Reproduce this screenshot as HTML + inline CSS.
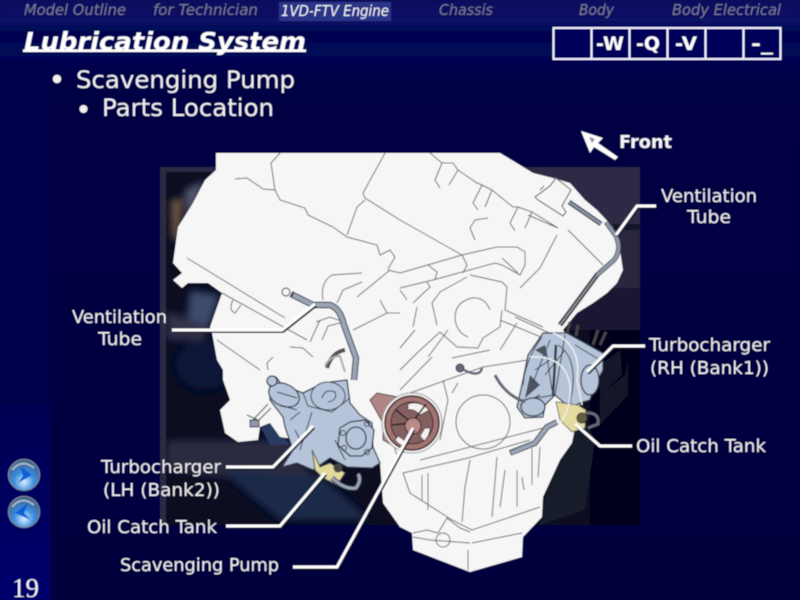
<!DOCTYPE html>
<html><head><meta charset="utf-8"><style>
html,body{margin:0;padding:0;background:#00003f;width:800px;height:600px;overflow:hidden}
svg{display:block}
.n{font:italic 15px "DejaVu Sans",sans-serif;fill:#77778f}
.l{font:18px "DejaVu Sans",sans-serif;fill:#eeeeee}
.b{font:24px "DejaVu Sans",sans-serif;fill:#f0f0f0}
.e{fill:none;stroke:#6a6a6a;stroke-width:1}
.t{fill:#b6c4da;stroke:#343a48;stroke-width:1.3}
.d{fill:none;stroke:#343a48;stroke-width:1}
.c{fill:none;stroke:#fff;stroke-width:3}
.s{fill:none;stroke:#15152a;stroke-width:3;transform:translate(1px,1.5px)}
</style></head><body>
<svg width="800" height="600" viewBox="0 0 800 600" xmlns="http://www.w3.org/2000/svg">
<defs>
<linearGradient id="bg" x1="0" y1="0" x2="0" y2="1"><stop offset="0" stop-color="#0a1060"/><stop offset=".035" stop-color="#0a1266"/><stop offset=".055" stop-color="#00054f"/><stop offset=".085" stop-color="#000858"/><stop offset=".14" stop-color="#000044"/><stop offset="1" stop-color="#00003e"/></linearGradient>
<linearGradient id="side" x1="0" y1="0" x2="0" y2="1"><stop offset="0" stop-color="#000052"/><stop offset="1" stop-color="#00006e"/></linearGradient>
<radialGradient id="ball" cx=".5" cy=".72" r=".7"><stop offset="0" stop-color="#dff1ff"/><stop offset=".45" stop-color="#3d8fe0"/><stop offset="1" stop-color="#3a5a80"/></radialGradient>
<filter id="soft" x="-5%" y="-5%" width="110%" height="110%"><feGaussianBlur stdDeviation="0.45"/></filter>
<filter id="bl" x="-20%" y="-20%" width="140%" height="140%"><feGaussianBlur stdDeviation="4"/></filter>
</defs>
<g filter="url(#soft)">
<rect width="800" height="600" fill="url(#bg)"/>
<rect x="0" y="405" width="50" height="195" fill="url(#side)"/>
<rect x="0" y="60" width="50" height="345" fill="#00004e"/>

<!-- nav -->
<rect x="279" y="2" width="112" height="19" fill="#2c3688"/>
<text class="n" x="24" y="15" textLength="102" lengthAdjust="spacingAndGlyphs">Model Outline</text>
<text class="n" x="153" y="15" textLength="105" lengthAdjust="spacingAndGlyphs">for Technician</text>
<text class="n" x="281" y="16" textLength="108" lengthAdjust="spacingAndGlyphs" style="fill:#f4f4f4">1VD-FTV Engine</text>
<text class="n" x="439" y="15" textLength="54" lengthAdjust="spacingAndGlyphs">Chassis</text>
<text class="n" x="579" y="15" textLength="35" lengthAdjust="spacingAndGlyphs">Body</text>
<text class="n" x="672" y="15" textLength="109" lengthAdjust="spacingAndGlyphs">Body Electrical</text>

<!-- title -->
<text x="24" y="50" textLength="282" lengthAdjust="spacingAndGlyphs" style="font:italic bold 25px 'DejaVu Sans',sans-serif;fill:#fff">Lubrication System</text>
<rect x="23" y="49.5" width="283" height="2.5" fill="#fff"/>

<!-- code box -->
<g fill="#00005a" stroke="#eef" stroke-width="2">
<rect x="553.5" y="28" width="38" height="31"/><rect x="591.5" y="28" width="38" height="31"/><rect x="629.5" y="28" width="38" height="31"/><rect x="667.5" y="28" width="38" height="31"/><rect x="705.5" y="28" width="38" height="31"/><rect x="743.5" y="28" width="37" height="31"/>
</g>
<g style="font:bold 19px 'DejaVu Sans',sans-serif;fill:#fff">
<text x="596" y="50" textLength="28" lengthAdjust="spacingAndGlyphs">-W</text>
<text x="636" y="50" textLength="24" lengthAdjust="spacingAndGlyphs">-Q</text>
<text x="675" y="50" textLength="22" lengthAdjust="spacingAndGlyphs">-V</text>
<text x="751" y="50" textLength="22" lengthAdjust="spacingAndGlyphs">-_</text>
</g>

<!-- bullets -->
<circle cx="57" cy="79" r="4.2" fill="#f0f0f0"/>
<text class="b" x="76" y="88" textLength="219" lengthAdjust="spacingAndGlyphs">Scavenging Pump</text>
<circle cx="83.5" cy="109" r="4" fill="#f0f0f0"/>
<text class="b" x="102" y="116" textLength="172" lengthAdjust="spacingAndGlyphs">Parts Location</text>

<!-- front arrow -->
<path d="M581 131 L603 138 L598 143 L618 157 L615 160 L594 147 L590 153 Z" fill="#fff"/>
<path d="M589 137 L595 139 L592 143 Z" fill="#8c8ca8"/>
<text x="619" y="148" textLength="53" lengthAdjust="spacingAndGlyphs" style="font:bold 18px 'DejaVu Sans',sans-serif;fill:#f4f4f4">Front</text>

<!-- photo backdrop -->
<rect x="160" y="167" width="480" height="358" fill="#2c2a44"/>
<rect x="166" y="172" width="474" height="353" fill="#070a22"/>
<rect x="525" y="172" width="115" height="52" fill="#2d2a44"/>
<rect x="560" y="224" width="80" height="6" fill="#17152c"/>
<rect x="590" y="230" width="50" height="58" fill="#2a2740"/>
<rect x="570" y="288" width="70" height="42" fill="#1a1832"/>
<rect x="590" y="330" width="50" height="195" fill="#06051a"/>
<path d="M600 395 L625 375 L628 360 L628 395 L600 425 Z" fill="#14142a"/>
<path d="M600 365 L620 350 L622 375 L600 395 Z" fill="#15142c"/>
<path d="M555 445 L585 420 L595 440 L585 510 L540 525 Z" fill="#191a2c"/>
<g filter="url(#bl)">
<path d="M170 200 L183 198 L180 240 L172 240Z" fill="#6a5540"/>
<path d="M184 190 L205 180 L190 230Z" fill="#55566e"/>
<path d="M190 290 L220 295 L208 330 L186 325 Z" fill="#3d4c6c"/>
<path d="M166 310 L205 325 L205 340 L166 340Z" fill="#33334a"/>
<path d="M166 440 L290 440 L320 490 L166 470Z" fill="#2c2c40"/>
<path d="M220 470 L320 475 L370 520 L280 520Z" fill="#1c2a4a"/>
<ellipse cx="205" cy="365" rx="30" ry="25" fill="#0e1838"/>
</g>
<path d="M261 428 L272 423 L290 445 L270 445Z" fill="#2a3a64"/>

<!-- engine silhouette -->
<path fill="#f6f6f6" d="M216 153 L500 153 L520 165 L533 173 L553 178 L570 183 L585 200 L597 210 L613 227 L620 250 L623 270 L617 283 L607 293 L593 303 L577 313 L563 330 L570 340 L585 380 L580 403 L572 443 L560 460 L543 497 L542 517 L523 537 L522 557 L470 572 L413 550 L412 533 L400 527 L383 503 L380 463 L350 462 L300 440 L280 437 L270 423 L260 427 L258 440 L238 442 L225 433 L220 410 L230 400 L223 380 L223 370 L217 360 L212 333 L210 327 L222 293 L208 283 L188 283 L182 288 L173 280 L182 273 L173 263 L178 227 L193 203 L205 180 L216 170 Z"/>

<!-- engine lines -->
<g class="e">
<path d="M235 179 L247 178 L263 189 L275 190 L280 200 L305 208 L308 215 L333 227 L347 237 L377 245 L380 255 L390 250 L395 257 L388 269"/>
<path d="M280 153 L271 163 L275 190"/>
<path d="M385 153 L363 193 L365 198 L400 220 L462 255 M528 215 L558 228"/>
<path d="M365 200 L357 207 L347 235"/>
<path d="M187 258 L285 318"/>
<path d="M222 293 L307 340"/>
<path d="M233 300 Q228 310 235 313 L241 305"/>
<path d="M362 273 L332 275 Q320 282 323 300"/>
<path d="M362 282 L343 290 L337 303"/>
<path d="M390 270 L357 297 M388 270 L400 273"/>
<path d="M380 300 L387 313 L353 330 M387 313 L400 313"/>
<path d="M290 347 L303 348 L313 357"/>
<path d="M217 340 L260 370"/>
<path d="M273 357 L267 363 L268 370"/>
<path d="M316 322 L330 317 L344 322 L328 326 L322 340 M310 342 L320 320"/>
<path d="M430 153 L442 163 L435 180 L440 188 M442 163 L453 163 L458 170 L449 185 M458 170 L477 183 L482 185 L473 203 L478 210 M482 185 L492 190 L485 207 M492 190 L513 207 L518 207 L510 223 L515 231 M532 212 L525 228 M518 207 L532 212 L558 228"/>
<path d="M488 218 L475 220 L470 228 L475 240"/>
<path d="M400 273 L462 255 L497 247 L517 247 L525 252 L525 265 L520 275 L502 265 L495 263 L433 280 L400 288"/>
<path d="M428 265 L437 272 L435 280 M462 255 L467 265 L463 273 M502 258 L518 273 M427 282 L430 287 L413 303"/>
<path d="M557 235 L540 268 L520 288"/>
<path d="M568 230 L603 265"/>
<path d="M470 275 L502 282 L507 287 L505 310 L543 327 M467 277 L440 292 L432 303 L437 325"/>
<path d="M490 310 Q485 297 472 298 Q455 302 455 318 Q456 332 468 337"/>
<path d="M440 332 L457 347 L478 348 L483 338 L500 327 L502 310 M500 350 L517 323"/>
<path d="M440 332 L417 353 L400 370 M417 307 L413 327 M400 290 L407 300 M415 330 L400 348 M428 357 L448 330 M452 358 L490 350 M432 357 L400 390"/>
<path d="M410 393 L483 367 L547 357"/>
<circle cx="483" cy="422" r="27"/>
<path d="M420 460 L547 427 M403 473 L468 458 L530 440"/>
<path d="M403 473 L410 493 L452 520 L472 530 L540 507 M428 473 L428 510 M422 475 L422 500"/>
<path d="M470 460 L465 487 L462 522 M497 457 L492 517 M505 470 L500 507 M517 470 L517 507 M522 477 L524 490 M532 448 L532 485 M540 447 L538 477"/>
<path d="M413 533 L427 530 L438 533 L447 518 L460 528 L470 532 M472 543 L522 533 M468 550 L468 570 M413 537 L430 540 L470 543"/>
<circle cx="443" cy="540" r="7" fill="none"/>
<path d="M452 393 L458 383 M500 320 L560 345 M515 317 L560 338"/>
<path d="M398 400 Q385 425 398 458 M443 380 L448 400 L440 440"/>
</g>

<!-- ventilation tube left -->
<path d="M291 294 L313 305 L330 305 Q340 308 344 325 L356 358 L354 380" fill="none" stroke="#343a48" stroke-width="6.5"/>
<path d="M293 295 L313 305 L330 305 Q340 308 344 325 L356 358 L354 380" fill="none" stroke="#9aa4b4" stroke-width="4.5"/>
<circle cx="286" cy="292" r="4" fill="none" stroke="#666" stroke-width="1.2"/>
<path d="M327 368 Q332 352 345 350" fill="none" stroke="#555" stroke-width="4"/>
<path d="M325 366 Q330 356 340 356 L345 372" fill="none" stroke="#aaa" stroke-width="2"/>
<!-- ventilation tube right -->
<path d="M569 202 L601 224" stroke="#343a48" stroke-width="5" fill="none"/>
<path d="M569 202 L601 224" stroke="#8d97a8" stroke-width="2.5" fill="none"/>
<path d="M606 222 L616 236 Q622 250 614 260 L597 275 L560 325" fill="none" stroke="#343a48" stroke-width="5"/>
<path d="M606 222 L616 236 Q622 250 614 260 L597 275" fill="none" stroke="#8d97a8" stroke-width="3.5"/>
<path d="M597 275 L560 325" fill="none" stroke="#999" stroke-width="1.5"/>
<!-- bracket on cam cover -->
<path d="M535 197 L550 186 L556 178 L571 190 L562 206 L566 212 L563 216 L538 200 Z M544 186 L540 190" fill="#f6f6f6" stroke="#666" stroke-width="1.1"/>

<!-- LH turbo -->
<g>
<path class="t" d="M270 378 L276 377 L282 385 L303 393 L323 383 L347 380 L350 403 L360 415 L372 423 L373 447 L380 463 L372 468 L347 467 L330 458 L313 470 L297 463 L282 467 L293 450 L285 427 L283 417 L270 400 Z"/>
<ellipse class="t" cx="284" cy="395" rx="16" ry="11" transform="rotate(25 284 395)"/>
<circle class="t" cx="272" cy="381" r="5"/>
<path class="d" d="M277 392 L297 398 M280 405 L297 410 M290 420 L300 412 M295 430 L300 440 M303 393 L308 406 L332 412 L350 398 M312 412 L300 450 M345 460 L335 440"/>
<ellipse class="t" cx="328" cy="396" rx="17" ry="14" style="stroke-width:1"/>
<path class="d" d="M322 398 Q325 388 335 392 Q338 400 328 402"/>
<path class="t" d="M340 428 L350 422 L365 420 L374 430 L372 448 L362 456 L350 456 L338 445 Z"/>
<ellipse class="t" cx="356" cy="438" rx="10" ry="11"/>
<circle class="d" cx="343" cy="433" r="2.5"/><circle class="d" cx="367" cy="424" r="2.5"/><circle class="d" cx="367" cy="452" r="2.5"/><circle class="d" cx="344" cy="448" r="2.5"/>
<path class="d" d="M271 408 L256 423 M268 404 L253 420 M247 415 L258 420" stroke-width="1.4"/>
<rect x="250" y="420" width="9" height="7" fill="#8d97a8" stroke="#333"/>
<path d="M312 450 L320 467 L330 463 L345 473 L337 485 L323 478 L315 470Z" fill="#e2d99c" stroke="#555" stroke-width="1"/>
<circle cx="338" cy="468" r="4.5" fill="#444"/>
<path d="M332 478 Q345 490 356 488 Q362 480 358 474" fill="none" stroke="#343a48" stroke-width="5"/>
<path d="M332 478 Q345 490 356 488 Q362 480 358 474" fill="none" stroke="#9aa4b4" stroke-width="3"/>
</g>

<!-- pump -->
<path d="M370 400 L377 393 L398 397 L410 395 L392 445 L383 440 L383 423 Z" fill="#b08584" stroke="#444" stroke-width="1"/>
<circle cx="412" cy="423" r="30" fill="#f6f6f6" stroke="#999" stroke-width="1"/>
<circle cx="412" cy="423" r="27" fill="#a07472" stroke="#3a2828" stroke-width="1.5"/>
<circle cx="412" cy="423" r="21" fill="#83605f" stroke="#3a2828"/>
<path d="M408 404 Q420 400 429 410 L420 415 Q414 408 408 410 Z M395 440 Q400 446 405 446 L404 440 L398 436 Z M430 428 Q430 436 424 441 L420 436 L425 428 Z" fill="#f4f0f0" stroke="#3a2828" stroke-width=".7"/>
<path d="M396 410 L412 423 M426 404 L412 423 M412 423 L406 445 M392 425 L412 423" stroke="#2f2020" stroke-width="1.5"/>
<circle cx="413" cy="426" r="8" fill="#b78a88" stroke="#3a2828"/>

<!-- RH turbo -->
<g>
<path class="t" d="M543 333 L567 333 L603 353 L603 370 L595 385 L590 400 L580 403 L570 408 L555 395 L545 405 L543 417 L525 418 L517 407 L523 380 L528 355 Z"/>
<path class="d" d="M542 337 Q525 360 523 385 M550 340 L528 395 M535 370 L550 360 M558 345 Q575 355 573 385 L570 405 M565 335 L555 395 M555 395 L523 400 M520 405 L540 395 M530 400 L540 415 M546 350 L552 390 M545 375 L565 350 M575 345 L600 360"/>
<path d="M556 345 L553 395" stroke="#343a48" stroke-width="2.5" fill="none"/>
<path d="M530 375 L540 385 L525 398 Z M535 350 L545 345 L548 358 Z" fill="#4a5262"/>
<ellipse class="t" cx="590" cy="380" rx="9" ry="15"/>
<ellipse class="t" cx="533" cy="407" rx="12" ry="9"/>
<path d="M567 333 L570 322 M576 336 L578 325 M593 345 L598 330 M600 345 L606 332" stroke="#444" stroke-width="3" fill="none"/>
<path d="M495 375 Q505 395 525 402" fill="none" stroke="#667" stroke-width="3"/>
<circle cx="460" cy="368" r="4" fill="#667" stroke="#333"/>
<path d="M464 370 Q480 378 482 368" fill="none" stroke="#667" stroke-width="2.5"/>
<path d="M556 402 L560 420 L572 432 L585 428 L586 410 L578 405 Z" fill="#e4dba0" stroke="#555" stroke-width=".8"/>
<circle cx="582" cy="418" r="5" fill="#665f3c" stroke="#333"/>
<path d="M585 413 Q600 412 598 424 L588 428" fill="none" stroke="#667" stroke-width="3"/>
<path d="M510 453 L535 443 L547 427 L557 422" fill="none" stroke="#343a48" stroke-width="6"/>
<path d="M511 453 L535 443 L547 427 L557 422" fill="none" stroke="#9aa4b4" stroke-width="4"/>
<path d="M530 357 Q565 355 570 385 Q572 410 558 425 M553 333 Q582 345 577 380 L582 405" fill="none" stroke="#eee" stroke-width="1.5"/>
</g>

<!-- callouts -->
<path class="s" d="M172 330 L282 330 L315 304"/>
<path class="c" d="M172 330 L282 330 L315 304"/>
<path class="s" d="M656 206 L637 206 L616 235"/>
<path class="c" d="M656 206 L637 206 L616 235"/>
<path class="s" d="M645 346 L613 346 L587 372"/>
<path class="c" d="M645 346 L613 346 L587 372"/>
<path class="s" d="M632 446 L600 446 L575 424"/>
<path class="c" d="M632 446 L600 446 L575 424"/>
<path class="s" d="M226 467 L273 467 L313 426"/>
<path class="c" d="M226 467 L273 467 L313 426"/>
<path class="s" d="M226 526 L280 526 L325 473"/>
<path class="c" d="M226 526 L280 526 L325 473"/>
<path class="s" d="M293 567 L337 567 L413 428"/>
<path class="c" d="M293 567 L337 567 L413 428"/>

<!-- labels -->
<text class="l" x="72" y="323" textLength="95" lengthAdjust="spacingAndGlyphs">Ventilation</text>
<text class="l" x="98" y="345" textLength="44" lengthAdjust="spacingAndGlyphs">Tube</text>
<text class="l" x="661" y="202" textLength="96" lengthAdjust="spacingAndGlyphs">Ventilation</text>
<text class="l" x="687" y="223" textLength="44" lengthAdjust="spacingAndGlyphs">Tube</text>
<text class="l" x="649" y="351" textLength="121" lengthAdjust="spacingAndGlyphs">Turbocharger</text>
<text class="l" x="650" y="374" textLength="119" lengthAdjust="spacingAndGlyphs">(RH (Bank1))</text>
<text class="l" x="636" y="452" textLength="130" lengthAdjust="spacingAndGlyphs">Oil Catch Tank</text>
<text class="l" x="101" y="473" textLength="120" lengthAdjust="spacingAndGlyphs">Turbocharger</text>
<text class="l" x="103" y="496" textLength="117" lengthAdjust="spacingAndGlyphs">(LH (Bank2))</text>
<text class="l" x="87" y="533" textLength="130" lengthAdjust="spacingAndGlyphs">Oil Catch Tank</text>
<text class="l" x="120" y="571" textLength="159" lengthAdjust="spacingAndGlyphs">Scavenging Pump</text>

<!-- nav buttons -->
<circle cx="24" cy="475" r="15.5" fill="url(#ball)" stroke="#7a8794" stroke-width="1.2"/>
<path d="M20 466 L32 475 L18 483 L23 476 Z" fill="#0f5fd8"/>
<path d="M12 470 Q22 458 34 468" fill="none" stroke="#a9b6c4" stroke-width="2"/>
<circle cx="24" cy="512" r="15.5" fill="url(#ball)" stroke="#7a8794" stroke-width="1.2"/>
<path d="M28 503 L15 513 L31 520 L24 513 Z" fill="#0f5fd8"/>
<path d="M12 507 Q22 495 34 505" fill="none" stroke="#a9b6c4" stroke-width="2"/>

<text x="12" y="597" style="font:27px 'Liberation Serif',serif;fill:#f2f2f2">19</text>
</g>
</svg>
</body></html>
